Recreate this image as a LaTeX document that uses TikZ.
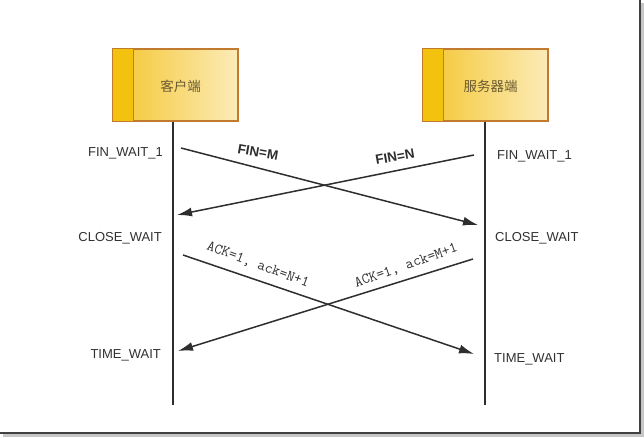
\documentclass[tikz,border=0pt]{standalone}
\usepackage{fontspec}
\setmainfont{Liberation Sans}
\newfontfamily\cjk{Noto Sans CJK SC}
\usetikzlibrary{arrows.meta}
\definecolor{boxedge}{HTML}{C27A2E}
\definecolor{boxleft}{HTML}{F4C630}
\definecolor{boxright}{HTML}{FCEBB8}
\definecolor{stripc}{HTML}{F2C20E}
\definecolor{linec}{HTML}{2E2E2E}
\definecolor{boxtext}{HTML}{6A5A30}
\definecolor{statec}{HTML}{303030}
\begin{document}
\begin{tikzpicture}[x=1pt,y=-1pt,
  hostbox/.style={draw=boxedge, line width=1.3pt, left color=boxleft, right color=boxright,
    minimum width=125pt, minimum height=72pt, inner sep=0pt},
  hosttext/.style={text=boxtext, font=\cjk\fontsize{13.5}{15}\selectfont},
  lifeline/.style={draw=linec, line width=1.5pt},
  msg/.style={draw=linec, line width=1.5pt, -{Latex[length=15pt,width=9pt]}},
  statel/.style={text=statec, font=\fontsize{13}{15}\selectfont, inner sep=0pt},
  finlab/.style={text=linec, font=\bfseries\fontsize{13.5}{15}\selectfont, inner sep=0pt},
  acklab/.style={text=linec, font=\ttfamily\fontsize{15}{17}\selectfont, inner sep=0pt}]
\useasboundingbox (0,0) rectangle (644,438);
% frame with shadow
\draw[gray!45, line width=3pt] (3,435.5) -- (642.5,435.5) -- (642.5,3);
\draw[black!75, line width=1.5pt] (0,433) -- (640,433) -- (640,0);
% hosts
\node[hostbox] (cbox) at (175.5,85) {};
\fill[stripc] ([shift={(0.65,-0.65)}]cbox.south west) rectangle ([xshift=21]cbox.north west);
\draw[boxedge, line width=1.3pt] ([xshift=21]cbox.south west) -- ([xshift=21]cbox.north west);
\draw[boxedge, line width=1.3pt] (cbox.south west) rectangle (cbox.north east);
\node[hosttext] (ctext) at (180.5,86) {客户端};
\node[hostbox] (sbox) at (485.5,85) {};
\fill[stripc] ([shift={(0.65,-0.65)}]sbox.south west) rectangle ([xshift=21]sbox.north west);
\draw[boxedge, line width=1.3pt] ([xshift=21]sbox.south west) -- ([xshift=21]sbox.north west);
\draw[boxedge, line width=1.3pt] (sbox.south west) rectangle (sbox.north east);
\node[hosttext] (stext) at (490.5,86) {服务器端};
% lifelines
\coordinate (cend) at (173,405);
\coordinate (send) at (485,405);
\draw[lifeline] (cbox.south -| cend) -- (cend);
\draw[lifeline] (sbox.south -| send) -- (send);
% message endpoints
\coordinate (m1s) at (181,148);
\coordinate (m1e) at (478,225);
\coordinate (m2s) at (474,155);
\coordinate (m2e) at (177,215);
\coordinate (m3s) at (183,255);
\coordinate (m3e) at (474,354);
\coordinate (m4s) at (473,259);
\coordinate (m4e) at (178,351);
\draw[msg] (m1s) -- (m1e);
\draw[msg] (m2s) -- (m2e);
\draw[msg] (m3s) -- (m3e);
\draw[msg] (m4s) -- (m4e);
% message labels
\node[finlab, rotate=-10] (l1) at (258,152) {FIN=M};
\node[finlab, rotate=10] (l2) at (395,157) {FIN=N};
\node[acklab, rotate=-20.5] (l3) at (258,265) {ACK=1,\ ack=N+1};
\node[acklab, rotate=19.5] (l4) at (406,266) {ACK=1,\ ack=M+1};
% states
\node[statel, anchor=east] (cs1) at (163,153) {FIN\_WAIT\_1};
\node[statel, anchor=east] (cs2) at (162,238) {CLOSE\_WAIT};
\node[statel, anchor=east] (cs3) at (161,355) {TIME\_WAIT};
\node[statel, anchor=west] (ss1) at (497,156) {FIN\_WAIT\_1};
\node[statel, anchor=west] (ss2) at (495,238) {CLOSE\_WAIT};
\node[statel, anchor=west] (ss3) at (494,359) {TIME\_WAIT};
\end{tikzpicture}
\end{document}
